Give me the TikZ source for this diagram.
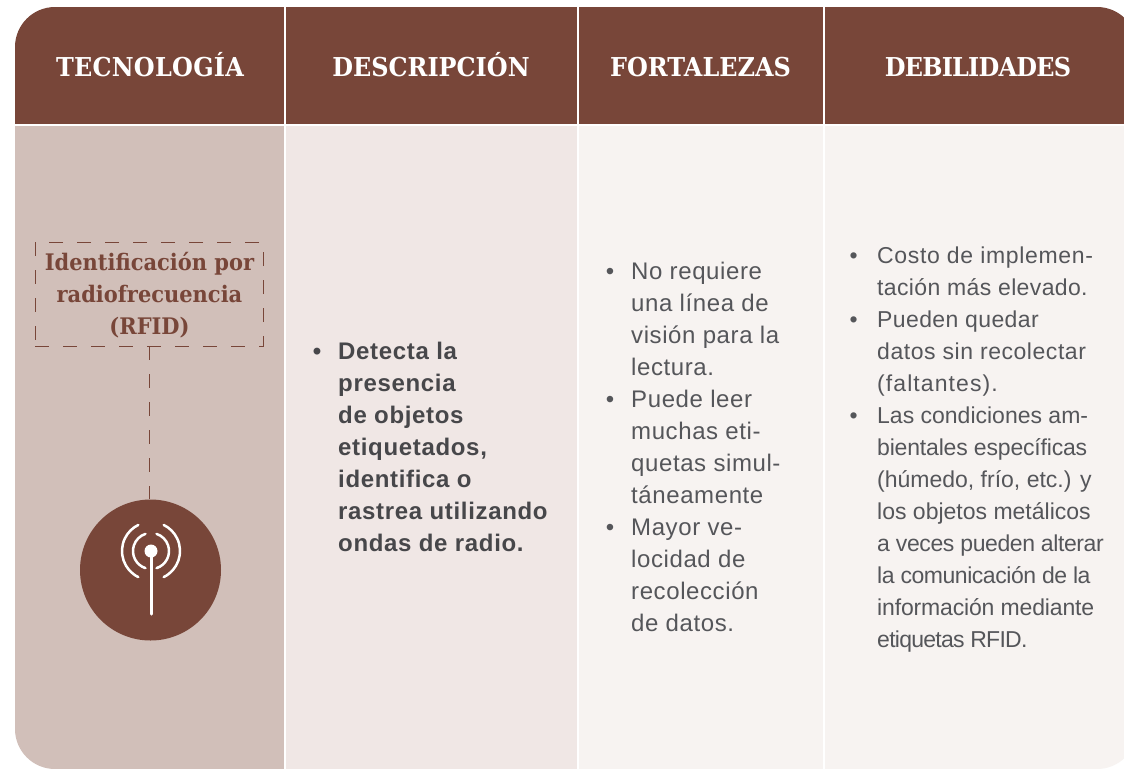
\documentclass[tikz,border=0pt]{standalone}
\usepackage{fontspec}
\setmainfont{Liberation Sans}
\newfontfamily\slabfont[FakeStretch=0.92]{DejaVu Serif}
\definecolor{brownhead}{HTML}{784639}
\definecolor{colone}{HTML}{D1BFB9}
\definecolor{coltwo}{HTML}{F0E7E5}
\definecolor{colrest}{HTML}{F7F3F1}
\definecolor{bodygrey}{HTML}{55565A}
\definecolor{bolddark}{HTML}{47474A}
\newcommand{\bul}[1]{\leavevmode\llap{\textbullet\hspace{#1}}}
\newcommand{\lsp}[2]{{\addfontfeature{LetterSpace=#1}#2}}
\tikzset{
  headtext/.style={anchor=base,text=white,inner sep=0pt,font=\slabfont\bfseries\fontsize{26}{30}\selectfont},
  bodytext/.style={anchor=north west,inner sep=0pt,align=left,text=bodygrey},
  dashbox/.style={draw=brownhead,line width=0.8pt,dash pattern=on 14pt off 14pt,minimum width=228pt,minimum height=104pt,inner sep=0pt},
  boxtitle/.style={inner sep=0pt,align=center,text=brownhead,font=\slabfont\bfseries\fontsize{22.8}{32}\selectfont},
  linkline/.style={draw=brownhead,line width=0.8pt,dash pattern=on 14pt off 14pt},
  wave/.style={draw=white,line width=2.5pt,line cap=round},
}
\begin{document}
\begin{tikzpicture}[x=1pt,y=-1pt]
\useasboundingbox (0,0) rectangle (1124,769);
\fill[white] (0,0) rectangle (1124,769);
\begin{scope}
\clip (0,0) rectangle (1124,769);
\clip[rounded corners=40pt] (15,7) rectangle (1137,769);
\fill[brownhead] (15,7) rectangle (284,124);
\fill[brownhead] (286,7) rectangle (577,124);
\fill[brownhead] (579,7) rectangle (823,124);
\fill[brownhead] (825,7) rectangle (1137,124);
\fill[colone] (15,126) rectangle (284,769);
\fill[coltwo] (286,126) rectangle (577,769);
\fill[colrest] (579,126) rectangle (823,769);
\fill[colrest] (825,126) rectangle (1137,769);
\end{scope}
\node[headtext] (h1) at (150,76) {\lsp{1}{TECNOLOGÍA}};
\node[headtext] (h2) at (431,76) {DESCRIPCIÓN};
\node[headtext] (h3) at (700.5,76) {FORTALEZAS};
\node[headtext] (h4) at (978,76) {\lsp{-3}{DEBILIDADES}};
\node[dashbox] (box) at (149,294) {};
\node[boxtitle] (title) at (149.5,295.5) {Identificación por\\radiofrecuencia\\(RFID)};
\node[circle,fill=brownhead,minimum size=141pt,inner sep=0pt] (circ) at (150.5,570) {};
\draw[linkline] (box.south) -- (box.south |- circ.north);
\draw[wave] ([shift={(151,551)}]116:29) arc (116:244:29);
\draw[wave] ([shift={(151,551)}]64:29) arc (64:-64:29);
\draw[wave] ([shift={(151,551)}]108:18) arc (108:252:18);
\draw[wave] ([shift={(151,551)}]72:18) arc (72:-72:18);
\fill[white] (151,551) circle (6.5);
\draw[white,line width=3pt,line cap=round] (151,551) -- (151,614);
\node[bodytext,text=bolddark,font=\bfseries\fontsize{24}{32}\selectfont\addfontfeature{LetterSpace=2.8}] (desc) at (338,342) {\bul{17pt}Detecta la\\presencia\\de objetos\\etiquetados,\\identifica o\\rastrea utilizando\\ondas de radio.};
\node[bodytext,font=\fontsize{24}{32}\selectfont\addfontfeature{LetterSpace=2.5}] (fort) at (631,262) {\bul{17pt}No requiere\\una línea de\\visión para la\\lectura.\\\bul{17pt}Puede leer\\muchas eti-\\quetas simul-\\táneamente\\\bul{17pt}Mayor ve-\\locidad de\\recolección\\de datos.};
\node[bodytext,font=\fontsize{23}{32}\selectfont] (deb) at (877,247) {\bul{19.5pt}\lsp{2.9}{Costo de implemen-}\\\lsp{1.6}{tación más elevado.}\\\bul{19.5pt}\lsp{1.7}{Pueden quedar}\\\lsp{2.4}{datos sin recolectar}\\\lsp{4.7}{(faltantes).}\\\bul{19.5pt}Las condiciones am-\\\lsp{-0.8}{bientales específicas}\\(húmedo, frío, etc.) y\\los objetos metálicos\\\lsp{-1.8}{a veces pueden alterar}\\\lsp{-2}{la comunicación de la}\\\lsp{-0.7}{información mediante}\\\lsp{-3.2}{etiquetas RFID.}};
\end{tikzpicture}
\end{document}
